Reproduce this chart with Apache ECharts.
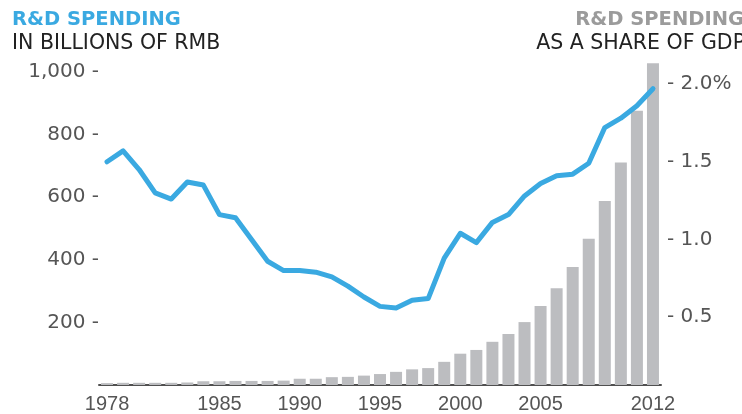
<!DOCTYPE html>
<html>
<head>
<meta charset="utf-8">
<script src="https://cdn.jsdelivr.net/npm/echarts@6/dist/echarts.min.js"></script>
<style>
  html, body { margin: 0; padding: 0; background: #fff; }
  #chart { width: 742px; height: 414px; }
</style>
</head>
<body>
<div id="chart"></div>
<script>
// Years on the horizontal axis
const years = [
  1978, 1979, 1980, 1981, 1982, 1983, 1984, 1985, 1986, 1987, 1988, 1989,
  1990, 1991, 1992, 1993, 1994, 1995, 1996, 1997, 1998, 1999, 2000, 2001,
  2002, 2003, 2004, 2005, 2006, 2007, 2008, 2009, 2010, 2011, 2012
];

// R&D spending, billions of RMB (grey bars, left scale)
const spendingBillions = [
  6, 7, 7, 7, 7, 8, 12, 12, 13, 13, 13, 14,
  20, 20, 25, 26, 30, 35, 42, 50, 54, 74, 100, 112,
  138, 163, 201, 252, 309, 377, 467, 588, 711, 876, 1028
];

// R&D spending as a share of GDP, percent (blue line, right scale)
const shareOfGdp = [
  1.50, 1.57, 1.45, 1.30, 1.26, 1.37, 1.35, 1.16, 1.14, 1.00, 0.86, 0.80,
  0.80, 0.79, 0.76, 0.70, 0.63, 0.57, 0.56, 0.61, 0.62, 0.88, 1.04, 0.98,
  1.11, 1.16, 1.28, 1.36, 1.41, 1.42, 1.49, 1.72, 1.78, 1.86, 1.97
];

// Years that get a label under the axis
const labelledYears = [1978, 1985, 1990, 1995, 2000, 2005, 2012];

// Left and right tick values
const leftTicks = [200, 400, 600, 800, 1000];
const rightTicks = [0.5, 1.0, 1.5, 2.0];

const BLUE = '#3aa9e1';
const BAR_GREY = '#bcbdc0';
const LABEL = '#555555';
const NUM_FONT = 'DejaVu Sans';

const chart = echarts.init(document.getElementById('chart'), null, { renderer: 'canvas' });

const yearLabels = years.map(String);

chart.setOption({
  animation: false,
  backgroundColor: '#ffffff',
  grid: [
    { left: 99, right: 81, top: 72, bottom: 26 },
    { left: 99, right: 81, top: 84, bottom: 19 }
  ],
  xAxis: [
    {
      type: 'category',
      gridIndex: 0,
      data: yearLabels,
      boundaryGap: true,
      axisLine: { show: true, lineStyle: { color: '#505050', width: 2 } },
      axisTick: { show: false },
      axisLabel: {
        margin: 9,
        color: LABEL,
        fontFamily: 'Liberation Sans',
        fontSize: 20,
        interval: function (idx, val) { return labelledYears.indexOf(Number(val)) !== -1; }
      },
      splitLine: { show: false }
    },
    {
      type: 'category',
      gridIndex: 1,
      data: yearLabels,
      boundaryGap: true,
      show: false
    }
  ],
  yAxis: [
    {
      type: 'value',
      gridIndex: 0,
      position: 'left',
      min: 0,
      max: 1000,
      interval: 200,
      axisLine: { show: false },
      axisTick: { show: false },
      splitLine: { show: false },
      axisLabel: {
        margin: 0,
        color: LABEL,
        fontFamily: NUM_FONT,
        fontSize: 20,
        formatter: function (v) {
          if (leftTicks.indexOf(v) === -1) return '';
          return (v >= 1000 ? v.toLocaleString('en-US') : String(v)) + ' -';
        }
      }
    },
    {
      type: 'value',
      gridIndex: 1,
      position: 'right',
      min: 0,
      max: 2,
      interval: 0.5,
      axisLine: { show: false },
      axisTick: { show: false },
      splitLine: { show: false },
      axisLabel: {
        margin: 6,
        color: LABEL,
        fontFamily: NUM_FONT,
        fontSize: 20,
        formatter: function (v) {
          if (rightTicks.indexOf(v) === -1) return '';
          return '- ' + v.toFixed(1) + (v === 2 ? '%' : '');
        }
      }
    }
  ],
  series: [
    {
      name: 'R&D spending',
      type: 'bar',
      xAxisIndex: 0,
      yAxisIndex: 0,
      data: spendingBillions,
      barWidth: 12,
      clip: false,
      itemStyle: { color: BAR_GREY },
      z: 1
    },
    {
      name: 'Share of GDP',
      type: 'line',
      xAxisIndex: 1,
      yAxisIndex: 1,
      data: shareOfGdp,
      symbol: 'none',
      smooth: false,
      lineStyle: { color: BLUE, width: 5, join: 'round', cap: 'round' },
      z: 3
    }
  ],
  graphic: [
    {
      type: 'text', left: 12, top: 10,
      style: { text: 'R&D SPENDING', fill: BLUE, font: 'bold 19.5px "DejaVu Sans"' }
    },
    {
      type: 'text', left: 12, top: 33,
      style: { text: 'IN BILLIONS OF RMB', fill: '#222222', font: '20.5px "DejaVu Sans"' }
    },
    {
      type: 'text', right: -2, top: 10,
      style: { text: 'R&D SPENDING', fill: '#9b9b9b', font: 'bold 19.5px "DejaVu Sans"' }
    },
    {
      type: 'text', right: -3, top: 33,
      style: { text: 'AS A SHARE OF GDP', fill: '#222222', font: '20.5px "DejaVu Sans"' }
    }
  ]
});
</script>
</body>
</html>
